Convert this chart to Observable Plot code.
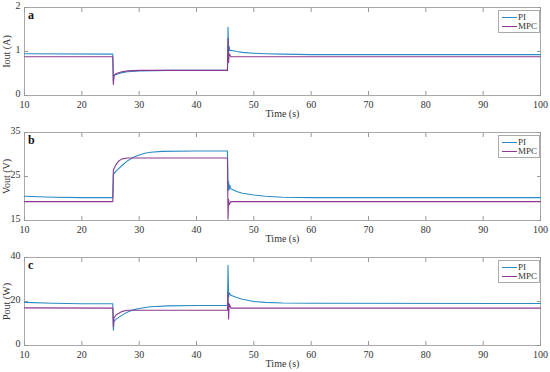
<!DOCTYPE html>
<html><head><meta charset="utf-8">
<script src="https://cdn.jsdelivr.net/npm/d3@7"></script>
<script src="https://cdn.jsdelivr.net/npm/@observablehq/plot@0.6"></script>
<style>
body{margin:0;background:#fff;font-family:"Liberation Serif",serif;}
#wrap{width:550px;position:relative;}
.panel{position:relative;width:550px;}
.lg{position:absolute;left:498px;top:10px;width:40px;height:21px;border:1px solid #aaa;background:#fff;font:9px "Liberation Serif",serif;color:#333;}
.lg div{position:absolute;left:3px;height:10px;line-height:10px;white-space:nowrap;}
.lg span{display:inline-block;width:15px;height:0;border-top:1.2px solid;vertical-align:middle;margin-right:1px;}
.pl{position:absolute;left:28px;top:8px;font:bold 12px "Liberation Serif",serif;color:#111;}
</style></head>
<body><div id="wrap"></div>
<script>
const seriesNames = ["PI", "MPC"];
const colors = ["#2b8cc4", "#8b3b8f"];
const xTicks = [10,20,30,40,50,60,70,80,90,100];

// Panel a: Iout (A)
const tA_PI = [10,25.4,25.5,25.6,25.8,26,26.5,27,28,30,35,40,45.4,45.5,45.6,45.7,45.8,46,47,48,50,52,55,60,70,80,90,100];
const iout_PI = [0.95,0.94,0.30,0.45,0.47,0.48,0.50,0.52,0.54,0.56,0.57,0.57,0.57,1.55,0.98,1.12,1.02,1.03,1.0,0.98,0.96,0.95,0.94,0.93,0.93,0.93,0.93,0.93];
const tA_MPC = [10,25.4,25.5,25.6,25.8,26,27,28,30,45.4,45.5,45.6,45.7,46,60,100];
const iout_MPC = [0.88,0.88,0.25,0.45,0.48,0.50,0.54,0.56,0.57,0.57,1.30,0.75,0.95,0.88,0.88,0.88];

// Panel b: Vout (V)
const tB_PI = [10,15,20,25.4,25.5,26,27,28,29,30,31,32,34,40,45.4,45.5,45.6,45.7,45.8,46,47,48,50,52,55,60,100];
const vout_PI = [20.5,20.3,20.2,20.2,25.5,26.3,27.5,28.6,29.4,29.9,30.3,30.5,30.7,30.8,30.8,21.8,23.8,22.0,23.0,22.2,21.6,21.2,20.8,20.5,20.3,20.2,20.2];
const tB_MPC = [10,25.4,25.5,26,26.5,27,28,45.4,45.5,45.6,45.7,46,100];
const vout_MPC = [19.3,19.3,26.5,27.8,28.6,29.0,29.2,29.2,15.3,19.8,18.6,19.3,19.3];

// Panel c: Pout (W)
const tC_PI = [10,15,20,25.4,25.5,25.6,26,27,28,29,30,32,35,40,45.4,45.5,45.6,45.7,46,47,48,50,52,55,60,100];
const pout_PI = [19.6,19.2,19.0,19.0,7.0,11.0,12.0,13.8,15.2,16.2,16.8,17.6,18.0,18.2,18.2,36.5,22.0,24.0,22.8,21.8,21.0,20.0,19.6,19.3,19.2,19.1];
const tC_MPC = [10,25.4,25.5,25.6,26,27,28,45.4,45.5,45.6,45.7,46,100];
const pout_MPC = [17.1,17.0,8.5,12.5,14.0,15.5,16.0,16.0,24.0,12.0,19.0,17.0,17.0];

const panels = [
  {label:"a", ylab:"Iout (A)", yDomain:[0,2], yTicks:[0,1,2], h:125, legend:true,
   series:[{t:tA_PI,v:iout_PI,s:0},{t:tA_MPC,v:iout_MPC,s:1}]},
  {label:"b", ylab:"Vout (V)", yDomain:[15,35], yTicks:[15,25,35], h:125, legend:true,
   series:[{t:tB_PI,v:vout_PI,s:0},{t:tB_MPC,v:vout_MPC,s:1}]},
  {label:"c", ylab:"Pout (W)", yDomain:[0,40], yTicks:[0,20,40], h:122, legend:true,
   series:[{t:tC_PI,v:pout_PI,s:0},{t:tC_MPC,v:pout_MPC,s:1}]}
];

const wrap = document.getElementById("wrap");
for (const p of panels) {
  const rows = [];
  for (const s of p.series) s.t.forEach((t,i)=>rows.push({t, v:s.v[i], name:seriesNames[s.s]}));
  const chart = Plot.plot({
    width:550, height:p.h,
    marginTop:7, marginBottom:p.h-95, marginLeft:24, marginRight:10,
    style:{fontFamily:"Liberation Serif, serif", fontSize:"10px", color:"#333", background:"#fff"},
    x:{domain:[10,100]},
    y:{domain:p.yDomain},
    color:{domain:seriesNames, range:colors},
    marks:[
      Plot.frame({stroke:"#aaa"}),
      Plot.axisX(xTicks,{anchor:"bottom", tickSize:0, tickPadding:5, label:"Time (s)", labelAnchor:"center", labelArrow:"none", labelOffset:21, fill:"#333"}),
      Plot.axisX(xTicks,{anchor:"bottom", tickSize:-4, text:null, label:null, stroke:"#999"}),
      Plot.axisX(xTicks,{anchor:"top", tickSize:-4, text:null, label:null, stroke:"#999"}),
      Plot.axisY(p.yTicks,{anchor:"left", tickSize:0, tickPadding:4, dy:-2, label:p.ylab, labelAnchor:"center", labelArrow:"none", labelOffset:22, fill:"#333"}),
      Plot.axisY(p.yTicks,{anchor:"left", tickSize:-4, text:null, label:null, stroke:"#999"}),
      Plot.axisY(p.yTicks,{anchor:"right", tickSize:-4, text:null, label:null, stroke:"#999"}),
      Plot.line(rows,{x:"t", y:"v", z:"name", stroke:"name", strokeWidth:1.1})
    ]
  });
  const div = document.createElement("div");
  div.className = "panel";
  div.appendChild(chart);
  const lab = document.createElement("div");
  lab.className = "pl"; lab.textContent = p.label;
  div.appendChild(lab);
  if (p.legend) {
    const lg = document.createElement("div");
    lg.className = "lg";
    seriesNames.forEach((n,i)=>{
      const r = document.createElement("div");
      r.style.top = (1 + i*9) + "px";
      r.innerHTML = `<span style="border-color:${colors[i]}"></span>${n}`;
      lg.appendChild(r);
    });
    div.appendChild(lg);
  }
  wrap.appendChild(div);
}
</script></body></html>
